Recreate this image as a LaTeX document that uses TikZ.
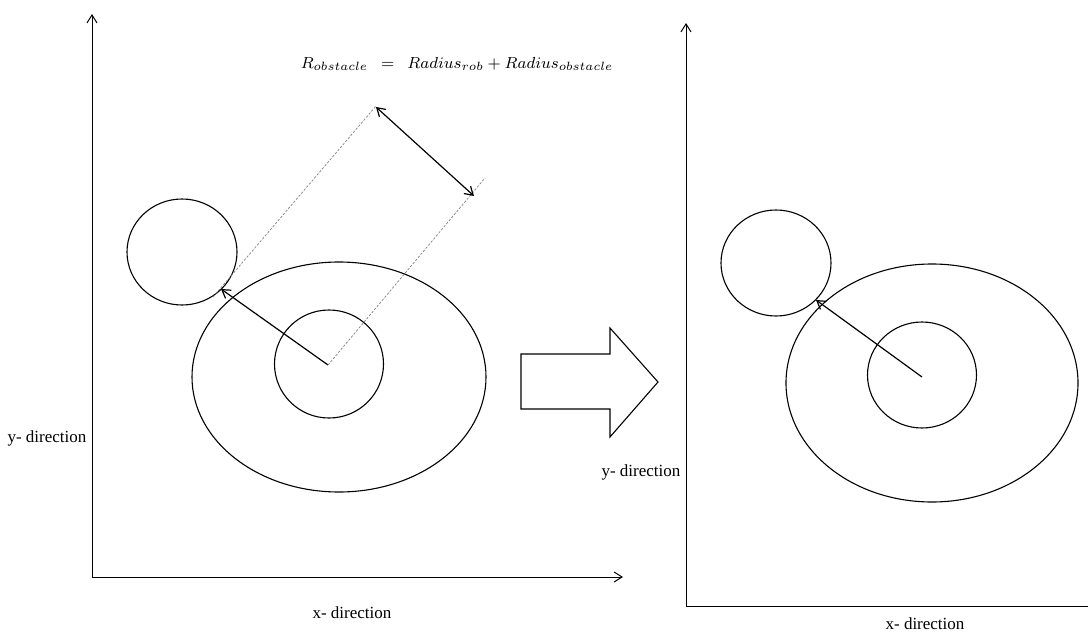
\documentclass[tikz,border=0pt]{standalone}
\usepackage{fontspec}
\setmainfont{Liberation Serif}
\usetikzlibrary{arrows.meta}

\begin{document}
\begin{tikzpicture}[
    x=0.5pt, y=-0.5pt,
    line width=0.5pt,
    axis/.style={-{Straight Barb[length=4pt,width=5pt]}},
    ring/.style={draw, line width=0.55pt},
    guide/.style={gray, line width=0.35pt, dash pattern=on 1.2pt off 0.8pt},
    pointer/.style={-{Straight Barb[length=4pt,width=5pt]}, line width=0.6pt},
    label/.style={font=\fontsize{8.5}{10}\selectfont, inner sep=1pt}
]
\useasboundingbox (0,0) rectangle (1088,632);

% left panel: axes
\coordinate (oL) at (92,577);
\coordinate (yL) at (92,14);
\coordinate (xL) at (623,577);
\draw[axis] (oL) -- (yL);
\draw[axis] (oL) -- (xL);
\node[label] (ylabL) at (47,438) {y- direction};
\node[label] (xlabL) at (352,613) {x- direction};

% left panel: obstacle and robot
\draw[ring] (182,252) ellipse [x radius=55, y radius=53];
\draw[ring] (339,377) ellipse [x radius=147, y radius=115];
\draw[ring] (329,364) ellipse [x radius=54.5, y radius=54];

\coordinate (cL) at (328,365);
\coordinate (tL) at (221,289);
\draw[pointer] (cL) -- (tL);

% left panel: dimension of the inflated radius
\coordinate (gA) at (213,297);
\coordinate (gB) at (376,106);
\coordinate (gC) at (485,178);
\draw[guide] (gA) -- (gB);
\draw[guide] (cL) -- (gC);
\coordinate (dA) at (376,107);
\coordinate (dB) at (474,196);
\draw[pointer, {Straight Barb[length=4pt,width=5pt]}-{Straight Barb[length=4pt,width=5pt]}] (dA) -- (dB);
\node[font=\fontsize{8.4}{10}\selectfont] (formula) at (457,64)
    {$R_{obstacle}\ \ =\ \ Radius_{rob} + Radius_{obstacle}$};

% block arrow between the panels
\draw[line width=0.55pt] (521,354) -- (610,354) -- (610,328) -- (658,382)
    -- (610,437) -- (610,409) -- (521,409) -- cycle;

% right panel: axes
\coordinate (oR) at (686,606);
\coordinate (yR) at (686,23);
\coordinate (xR) at (1088,606);
\draw[axis] (oR) -- (yR);
\draw (oR) -- (xR);
\node[label] (ylabR) at (641,472) {y- direction};
\node[label] (xlabR) at (925,624) {x- direction};

% right panel: obstacle and robot
\draw[ring] (776,263) ellipse [x radius=55, y radius=53];
\draw[ring] (932,383) ellipse [x radius=146, y radius=119];
\draw[ring] (922,375) ellipse [x radius=54.5, y radius=53];

\coordinate (cR) at (922,377);
\coordinate (tR) at (816,300);
\draw[pointer] (cR) -- (tR);

\end{tikzpicture}
\end{document}
